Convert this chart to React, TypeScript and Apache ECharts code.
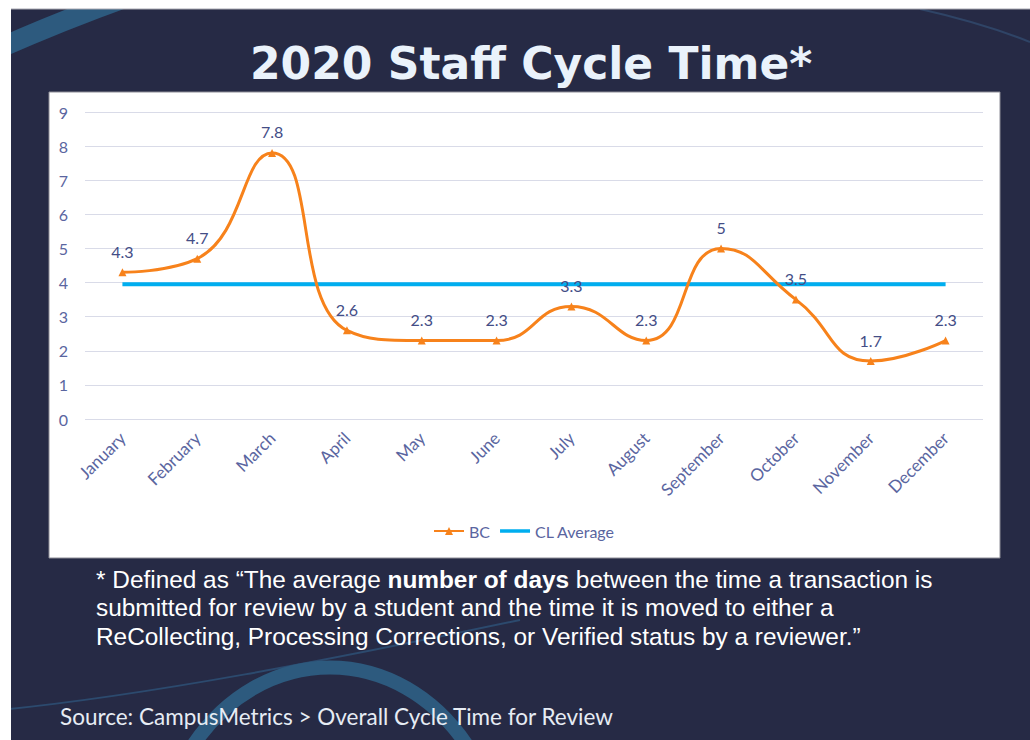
import React, { useEffect, useRef } from "react";
import * as echarts from "echarts";

const months = [
  "January", "February", "March", "April", "May", "June",
  "July", "August", "September", "October", "November", "December",
];
const bcValues = [4.3, 4.7, 7.8, 2.6, 2.3, 2.3, 3.3, 2.3, 5, 3.5, 1.7, 2.3];
const clAverage = [3.95, 3.95, 3.95, 3.95, 3.95, 3.95, 3.95, 3.95, 3.95, 3.95, 3.95, 3.95];
const yMin = 0;
const yMax = 9;
const yInterval = 1;

const titleText = "2020 Staff Cycle Time*";
const noteLine1a = "* Defined as \u201cThe average ";
const noteLine1b = "number of days";
const noteLine1c = " between the time a transaction is";
const noteLine2 = "submitted for review by a student and the time it is moved to either a";
const noteLine3 = "ReCollecting, Processing Corrections, or Verified status by a reviewer.\u201d";
const sourceText = "Source: CampusMetrics > Overall Cycle Time for Review";

const BG = "#262a45";
const ARC = "#2d5a7e";
const AXIS_TEXT = "#5a65a0";
const LABEL_TEXT = "#434d86";
const chartFont = "Lato, 'Open Sans', sans-serif";
const noteFont = "'Liberation Sans', Arial, sans-serif";

export default function App() {
  const ref = useRef<HTMLDivElement>(null);
  useEffect(() => {
    document.body.style.margin = "0";
    const chart = echarts.init(ref.current as HTMLDivElement, null, { renderer: "svg" });
    chart.setOption({
      animation: false,
      backgroundColor: "#ffffff",
      graphic: [
        { type: "rect", z: 0, silent: true, shape: { x: 11, y: 9, width: 1019, height: 731 }, style: { fill: BG } },
        { type: "bezierCurve", z: 1, silent: true, shape: { x1: 0, y1: 48, cpx1: 40, cpy1: 30, cpx2: 80, cpy2: 14, x2: 130, y2: -4 }, style: { stroke: ARC, lineWidth: 20, fill: "none" } },
        { type: "bezierCurve", z: 1, silent: true, shape: { x1: 920, y1: 9, cpx1: 960, cpy1: 18, cpx2: 1000, cpy2: 30, x2: 1030, y2: 42 }, style: { stroke: "#2f4466", lineWidth: 2, fill: "none" } },
        { type: "bezierCurve", z: 1, silent: true, shape: { x1: 0, y1: 710, cpx1: 150, cpy1: 695, cpx2: 330, cpy2: 660, x2: 520, y2: 620 }, style: { stroke: "#2c4a6e", lineWidth: 2, fill: "none" } },
        { type: "bezierCurve", z: 1, silent: true, shape: { x1: 190, y1: 750, cpx1: 260, cpy1: 640, cpx2: 400, cpy2: 640, x2: 470, y2: 750 }, style: { stroke: ARC, lineWidth: 14, fill: "none" } },
        { type: "rect", z: 2, silent: true, shape: { x: 0, y: 0, width: 1030, height: 9 }, style: { fill: "#ffffff" } },
        { type: "rect", z: 2, silent: true, shape: { x: 0, y: 0, width: 11, height: 740 }, style: { fill: "#ffffff" } },
        { type: "line", z: 2, silent: true, shape: { x1: 11, y1: 9, x2: 1030, y2: 9 }, style: { stroke: "#a9a9b2", lineWidth: 1 } },
        { type: "rect", z: 3, silent: true, shape: { x: 49, y: 92, width: 951, height: 466 }, style: { fill: "#ffffff", stroke: "#8c8c96", lineWidth: 1 } },
      ],
      title: [
        {
          text: titleText, left: 250, top: 41, z: 10, padding: 0,
          textStyle: { color: "#eaf2fb", fontSize: 44, fontWeight: "bold", fontFamily: "'DejaVu Sans', Verdana, sans-serif" },
        },
        {
          text: `{a|${noteLine1a}}{b|${noteLine1b}}{a|${noteLine1c}}\n{a|${noteLine2}}\n{a|${noteLine3}}`,
          left: 96, top: 565, z: 10, padding: 0,
          textStyle: {
            fontWeight: "normal",
            rich: {
              a: { color: "#ffffff", fontSize: 24.4, lineHeight: 28.5, fontWeight: "normal", fontFamily: noteFont },
              b: { color: "#ffffff", fontSize: 24.4, lineHeight: 28.5, fontWeight: "bold", fontFamily: noteFont },
            },
          },
        },
        {
          text: sourceText, left: 60, top: 705, z: 10, padding: 0,
          textStyle: { color: "#e6ecf4", fontSize: 22.5, fontWeight: "normal", fontFamily: chartFont },
        },
      ],
      legend: {
        left: 433, top: 523, z: 10, padding: 0,
        itemWidth: 30, itemHeight: 10, itemGap: 10,
        textStyle: { color: AXIS_TEXT, fontSize: 16, fontFamily: chartFont },
        data: [
          { name: "BC" },
          { name: "CL Average", icon: "path://M0 0H30V3.5H0Z" },
        ],
      },
      grid: { left: 85, top: 112, width: 898, height: 307, containLabel: false },
      xAxis: {
        type: "category",
        data: months,
        boundaryGap: true,
        axisLine: { show: false },
        axisTick: { show: false },
        axisLabel: { rotate: 45, margin: 16, color: AXIS_TEXT, fontSize: 17, fontFamily: chartFont },
        z: 10,
      },
      yAxis: {
        type: "value",
        min: yMin, max: yMax, interval: yInterval,
        axisLine: { show: false },
        axisTick: { show: false },
        axisLabel: { margin: 17, color: AXIS_TEXT, fontSize: 16, fontFamily: chartFont },
        splitLine: { lineStyle: { color: "#d9dbe8", width: 1 } },
        z: 10,
      },
      series: [
        {
          name: "BC", type: "line", data: bcValues, z: 12,
          smooth: 0.5,
          symbol: "triangle", symbolSize: 8, showSymbol: true,
          lineStyle: { color: "#f7821b", width: 3 },
          itemStyle: { color: "#f7821b" },
          label: { show: true, position: "top", distance: 9, color: LABEL_TEXT, fontSize: 16, fontFamily: chartFont },
        },
        {
          name: "CL Average", type: "line", data: clAverage, z: 11,
          symbol: "none", showSymbol: false,
          lineStyle: { color: "#00aeef", width: 4 },
          itemStyle: { color: "#00aeef" },
        },
      ],
    });
    return () => chart.dispose();
  }, []);
  return <div ref={ref} style={{ width: 1030, height: 740 }} />;
}
